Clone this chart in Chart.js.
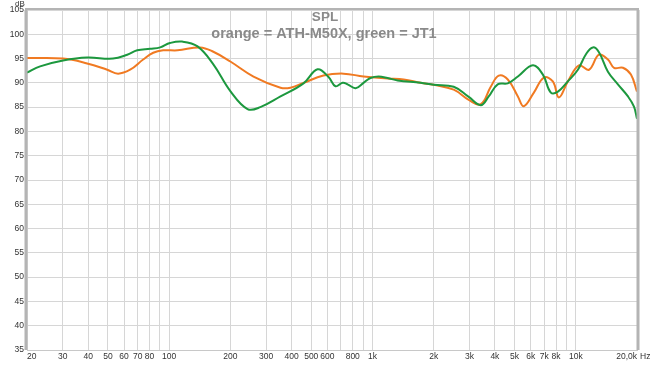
<!DOCTYPE html>
<html>
<head>
<meta charset="utf-8">
<script src="https://cdn.jsdelivr.net/npm/chart.js@4/dist/chart.umd.min.js"></script>
<style>
  body { margin: 0; background: #fff; }
  #wrap { width: 650px; height: 365px; }
</style>
</head>
<body>
<div id="wrap"><canvas id="splChart" width="650" height="365"></canvas></div>
<script>
// ATH-M50X (orange)
const orangeFreq = [20, 30.1, 39.5, 49.6, 56.1, 64.3, 74.5, 83.5, 93.5, 110, 142, 165, 200, 260, 353, 395, 458, 574, 721, 904,
    1186, 1424, 1726, 2000, 2510, 2975, 3410, 3818, 4180, 4630, 5190, 5550, 6220, 6970, 7710, 8260, 9140, 10360, 11610, 13000,
    14390, 15420, 17060, 18670, 20000];
const orangeSpl = [95.1, 95, 94, 92.7, 91.9, 92.7, 94.8, 96.2, 96.7, 96.7, 97.3, 96.4, 94.4, 91.3, 89, 89, 90, 91.5, 91.9, 91.3,
    90.9, 90.7, 90, 89.6, 88.6, 86.5, 85.6, 89.2, 91.5, 90.7, 87.2, 85.2, 88, 91.1, 90.3, 87, 90.3, 93.6, 92.7, 95.8,
    94.8, 93.1, 93.1, 91.7, 88.2];

// JT1 (green)
const greenFreq = [20, 23.2, 30.1, 39.5, 53, 62.2, 69.7, 80.7, 90.4, 101, 116, 138, 165, 200, 243, 281, 353, 458, 537, 608,
    658, 713, 754, 826, 904, 978, 1072, 1186, 1330, 1726, 2000, 2510, 2975, 3410, 3730, 4130, 4630, 5190, 6150, 6890,
    7540, 8170, 9140, 10240, 11220, 12140, 13000, 14390, 16110, 18060, 19330, 20000];
const greenSpl = [92.1, 93.4, 94.6, 95.2, 95, 95.8, 96.7, 97, 97.3, 98.2, 98.5, 97.5, 93.8, 88.3, 84.6, 85, 87.2, 89.9, 92.8, 91.2,
    89.3, 90, 89.7, 88.9, 90, 91, 91.3, 91, 90.5, 90, 89.6, 89.2, 87.1, 85.4, 87.2, 89.7, 89.9, 91.3, 93.6, 91.7,
    88, 88.2, 90.3, 92.7, 95.9, 97.3, 96.3, 92.3, 89.7, 87.2, 85.1, 82.6];

// x grid positions and their labels (no label on 90, 700 stays, 900, 9k)
const freqTicks = [20, 30, 40, 50, 60, 70, 80, 90, 100, 200, 300, 400, 500, 600, 700, 800, 900,
    1000, 2000, 3000, 4000, 5000, 6000, 7000, 8000, 9000, 10000, 20000];
const freqLabels = ['20', '30', '40', '50', '60', '70', '80', '', '100', '200', '300', '400', '500', '600', '', '800', '',
    '1k', '2k', '3k', '4k', '5k', '6k', '7k', '8k', '', '10k', '20,0k'];

const titleLines = ['SPL', 'orange = ATH-M50X, green = JT1'];
const yUnit = 'dB';
const xUnit = 'Hz';

const toPoints = (xs, ys) => xs.map((x, i) => ({ x: x, y: ys[i] }));

// titel, eenheden en rand
const overlayPlugin = {
    id: 'overlay',
    afterDraw(chart) {
        const { ctx, chartArea: a } = chart;
        ctx.save();
        ctx.strokeStyle = '#b4b4b4';
        ctx.lineWidth = 3;
        ctx.beginPath();
        ctx.moveTo(a.left - 1, a.top);
        ctx.lineTo(a.left - 1, a.bottom);
        ctx.moveTo(a.right + 1, a.top);
        ctx.lineTo(a.right + 1, a.bottom);
        ctx.stroke();
        ctx.lineWidth = 2;
        ctx.beginPath();
        ctx.moveTo(a.left - 2, a.top - 1);
        ctx.lineTo(a.right + 2, a.top - 1);
        ctx.stroke();

        ctx.fillStyle = '#8a8a8a';
        ctx.textAlign = 'center';
        ctx.textBaseline = 'middle';
        ctx.font = 'bold 13.5px "Liberation Sans", Arial, sans-serif';
        ctx.fillText(titleLines[0], 325, 17);
        ctx.font = 'bold 14.5px "Liberation Sans", Arial, sans-serif';
        ctx.fillText(titleLines[1], 324, 34);

        ctx.fillStyle = '#333';
        ctx.font = '8px "Liberation Sans", Arial, sans-serif';
        ctx.textAlign = 'left';
        ctx.fillText(yUnit, 15, 4);
        ctx.font = '8.5px "Liberation Sans", Arial, sans-serif';
        ctx.textBaseline = 'top';
        ctx.fillText(xUnit, a.right + 3, a.bottom + 2);
        ctx.restore();
    }
};

const config = {
    type: 'line',
    data: {
        datasets: [
            {
                label: 'JT1',
                data: toPoints(greenFreq, greenSpl),
                borderColor: '#1c983e',
                borderWidth: 2,
                pointRadius: 0,
                tension: 0.4
            },
            {
                label: 'ATH-M50X',
                data: toPoints(orangeFreq, orangeSpl),
                borderColor: '#f07a22',
                borderWidth: 2,
                pointRadius: 0,
                tension: 0.4
            }
        ]
    },
    options: {
        responsive: false,
        animation: false,
        layout: { padding: { top: 10, right: 13, left: 0, bottom: 0 } },
        plugins: {
            legend: { display: false },
            title: { display: false },
            tooltip: { enabled: false }
        },
        scales: {
            x: {
                type: 'logarithmic',
                min: 20,
                max: 20000,
                afterBuildTicks: (scale) => {
                    scale.ticks = freqTicks.map(v => ({ value: v }));
                },
                afterFit: (scale) => {
                    scale.height = 15;
                    scale.paddingLeft = 0;
                    scale.paddingRight = 0;
                },
                ticks: {
                    autoSkip: false,
                    maxRotation: 0,
                    align: 'inner',
                    padding: 2,
                    color: '#333',
                    font: { size: 8.5, family: '"Liberation Sans", Arial, sans-serif' },
                    callback: (value, index) => freqLabels[index]
                },
                grid: { color: '#d6d6d6', lineWidth: 1, drawTicks: false },
                border: { color: '#c8c8c8' }
            },
            y: {
                min: 35,
                max: 105,
                afterFit: (scale) => {
                    scale.width = 27;
                    scale.paddingTop = 0;
                    scale.paddingBottom = 0;
                },
                ticks: {
                    stepSize: 5,
                    padding: 3,
                    color: '#333',
                    font: { size: 8.5, family: '"Liberation Sans", Arial, sans-serif' }
                },
                grid: { color: '#d6d6d6', lineWidth: 1, drawTicks: false },
                border: { display: false }
            }
        }
    },
    plugins: [overlayPlugin]
};

const splChart = new Chart(document.getElementById('splChart').getContext('2d'), config);
</script>
</body>
</html>
